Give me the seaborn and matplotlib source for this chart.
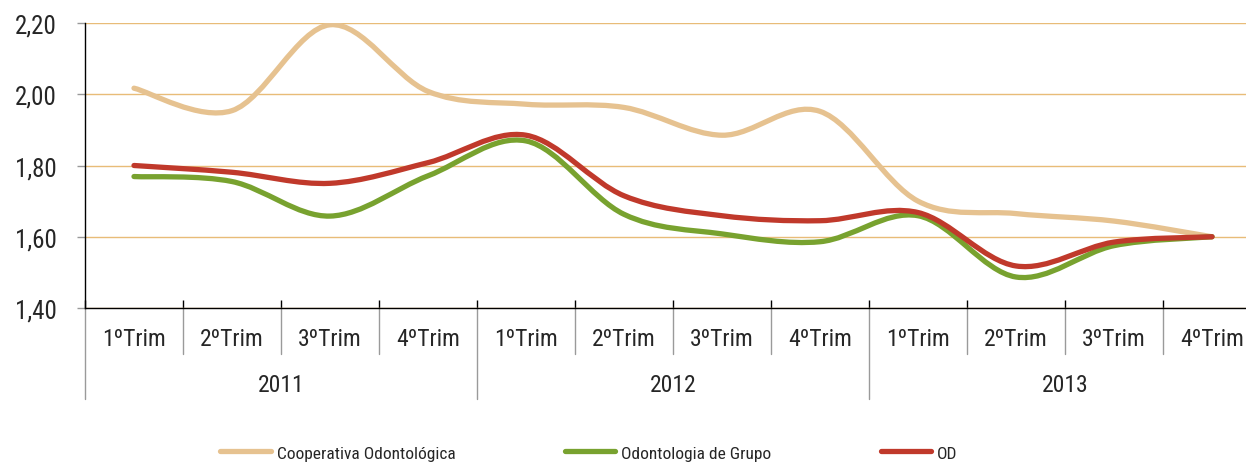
import pandas as pd
import seaborn as sns
import matplotlib.pyplot as plt
import matplotlib.transforms as mtransforms
from matplotlib.path import Path
from matplotlib.patches import PathPatch
from matplotlib.lines import Line2D

# ---------- DATA ----------

trimestres = ["1ºTrim", "2ºTrim", "3ºTrim", "4ºTrim"] * 3
anos = ["2011", "2012", "2013"]

cooperativa = [2.017, 1.954, 2.195, 2.008, 1.972, 1.963, 1.885, 1.952, 1.700, 1.665, 1.644, 1.600]
grupo = [1.769, 1.755, 1.658, 1.771, 1.869, 1.663, 1.608, 1.586, 1.659, 1.487, 1.575, 1.600]
od = [1.800, 1.781, 1.750, 1.808, 1.885, 1.715, 1.659, 1.645, 1.668, 1.518, 1.585, 1.600]

nomes = ["Cooperativa Odontológica", "Odontologia de Grupo", "OD"]
cores = ["#E6C290", "#78A22F", "#C0392B"]

yticks = [1.40, 1.60, 1.80, 2.00, 2.20]

df = pd.DataFrame({
    "pos": list(range(len(trimestres))) * 3,
    "valor": cooperativa + grupo + od,
    "serie": [nomes[0]] * 12 + [nomes[1]] * 12 + [nomes[2]] * 12,
})

# ---------- STYLE ----------

sns.set_theme(style="white")
plt.rcParams["font.family"] = ["Roboto Condensed", "DejaVu Sans"]
plt.rcParams["font.stretch"] = "condensed"

fig = plt.figure(figsize=(12.46, 4.64), dpi=100)
ax = fig.add_axes([85 / 1246, 1 - 309 / 464, 1176 / 1246, 285 / 464])

sns.lineplot(
    data=df, x="pos", y="valor", hue="serie",
    palette=dict(zip(nomes, cores)), legend=False, ax=ax
)


def smooth_path(xs, ys):
    # excel style smoothed line (bezier through the points)
    pts = list(zip(xs, ys))
    n = len(pts)
    verts = [pts[0]]
    codes = [Path.MOVETO]
    for i in range(n - 1):
        p0 = pts[max(i - 1, 0)]
        p1 = pts[i]
        p2 = pts[i + 1]
        p3 = pts[min(i + 2, n - 1)]
        c1 = (p1[0] + (p2[0] - p0[0]) / 6, p1[1] + (p2[1] - p0[1]) / 6)
        c2 = (p2[0] - (p3[0] - p1[0]) / 6, p2[1] - (p3[1] - p1[1]) / 6)
        verts += [c1, c2, p2]
        codes += [Path.CURVE4] * 3
    return Path(verts, codes)


for line, cor in zip(ax.get_lines(), cores):
    xy = line.get_xydata()
    patch = PathPatch(
        smooth_path(xy[:, 0], xy[:, 1]),
        fill=False, edgecolor=cor, linewidth=3.8,
        capstyle="round", joinstyle="round", zorder=3
    )
    ax.add_patch(patch)
    line.set_visible(False)

# ---------- AXES ----------

ax.set_xlim(-0.5, 11.5)
ax.set_ylim(1.40, 2.20)
ax.set_yticks(yticks)
ax.set_yticklabels([f"{v:.2f}".replace(".", ",") for v in yticks], fontsize=18)
ax.yaxis.grid(True, color="#E8BC78", linewidth=1)
ax.set_axisbelow(True)

ax.set_xticks([i - 0.5 for i in range(13)])
ax.set_xticklabels([])
ax.tick_params(axis="x", direction="in", length=6, width=1, color="black", bottom=True)
ax.tick_params(axis="y", direction="out", length=6, width=1, color="#999999", left=True, pad=14)
ax.set_xlabel("")
ax.set_ylabel("")

for s in ["top", "right"]:
    ax.spines[s].set_visible(False)
for s in ["left", "bottom"]:
    ax.spines[s].set_color("black")
    ax.spines[s].set_linewidth(1)

trans = mtransforms.blended_transform_factory(ax.transData, ax.transAxes)

for i, t in enumerate(trimestres):
    ax.text(i, -31 / 285, t, transform=trans, ha="center", va="center", fontsize=17)

for j, a in enumerate(anos):
    ax.text(4 * j + 1.5, -77 / 285, a, transform=trans, ha="center", va="center", fontsize=17)

# category separators below the axis
for k in range(13):
    fundo = -91 / 285 if k % 4 == 0 else -46 / 285
    ax.plot([k - 0.5, k - 0.5], [0, fundo], transform=trans,
            color="#9A9A9A", linewidth=1, clip_on=False)

# ---------- LEGEND ----------

handles = [Line2D([0], [0], color=c, linewidth=3.8) for c in cores]
fig.legend(
    handles, nomes, loc="center", bbox_to_anchor=(589 / 1246, 1 - 454 / 464),
    ncol=3, frameon=False, fontsize=12.5, handlelength=2.9,
    handletextpad=0.35, columnspacing=6.3
)

fig.savefig("out.png", dpi=100)
